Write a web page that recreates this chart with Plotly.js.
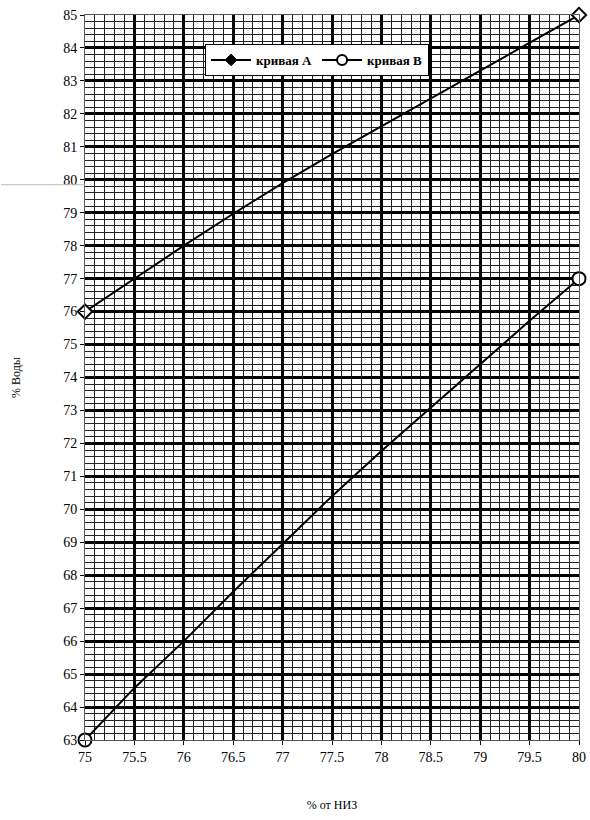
<!DOCTYPE html>
<html>
<head>
<meta charset="utf-8">
<script src="https://cdn.plot.ly/plotly-3.0.1.min.js"></script>
<style>html,body{margin:0;padding:0;background:#fff;}#chart{width:590px;height:820px;}</style>
</head>
<body>
<div id="chart"></div>
<script>
// Data
var xValues = [75, 75.5, 76, 76.5, 77, 77.5, 78, 78.5, 79, 79.5, 80];
var curveA = [76, 77.0, 78.0, 78.97, 79.9, 80.78, 81.62, 82.46, 83.3, 84.14, 85];
var curveB = [63, 64.58, 66.0, 67.5, 68.95, 70.4, 71.77, 73.1, 74.4, 75.72, 77];
var seriesNames = ['кривая А', 'кривая В'];
var xTitle = '% от НИЗ';
var yTitle = '% Воды';

var endIdx = [0, xValues.length - 1];
function pick(arr) { return endIdx.map(function (i) { return arr[i]; }); }

var traces = [
  {x: xValues, y: curveA, mode: 'lines', line: {color: '#000', width: 2}, showlegend: false, hoverinfo: 'skip'},
  {x: pick(xValues), y: pick(curveA), mode: 'markers', showlegend: false, cliponaxis: false,
   marker: {symbol: 'diamond', size: 11, color: '#fff', line: {color: '#000', width: 2}}},
  {x: xValues, y: curveB, mode: 'lines', line: {color: '#000', width: 2}, showlegend: false, hoverinfo: 'skip'},
  {x: pick(xValues), y: pick(curveB), mode: 'markers', showlegend: false, cliponaxis: false,
   marker: {symbol: 'circle', size: 13, color: '#fff', line: {color: '#000', width: 2}}},
  // legend entries
  {x: [null], y: [null], mode: 'lines+markers', name: seriesNames[0],
   line: {color: '#000', width: 2}, marker: {symbol: 'diamond', size: 9, color: '#000', line: {color: '#000', width: 1}}},
  {x: [null], y: [null], mode: 'lines+markers', name: seriesNames[1],
   line: {color: '#000', width: 2}, marker: {symbol: 'circle', size: 10, color: '#fff', line: {color: '#000', width: 2}}}
];

var fontFam = '"Liberation Serif", "Times New Roman", serif';

var layout = {
  width: 590, height: 820,
  margin: {l: 85, r: 11, t: 15, b: 80},
  paper_bgcolor: '#fff', plot_bgcolor: '#fff',
  font: {family: fontFam, size: 14, color: '#000'},
  showlegend: true,
  legend: {
    orientation: 'h', x: 0.243, y: 0.96, xanchor: 'left', yanchor: 'top',
    bgcolor: '#fff', bordercolor: '#000', borderwidth: 1,
    font: {family: fontFam, size: 13, color: '#000', weight: 'bold'},
    itemwidth: 40, tracegroupgap: 0
  },
  xaxis: {
    range: [75, 80], tickmode: 'linear', tick0: 75, dtick: 0.5,
    showgrid: true, gridcolor: '#000', gridwidth: 3,
    minor: {dtick: 0.1, showgrid: true, gridcolor: '#222', gridwidth: 1},
    showline: true, linecolor: '#555', linewidth: 1, mirror: true,
    ticks: 'outside', ticklen: 4, tickcolor: '#000',
    zeroline: false, fixedrange: true,
    tickfont: {family: fontFam, size: 14, color: '#000'},
    title: {text: xTitle, standoff: 36, font: {family: fontFam, size: 12, color: '#000'}}
  },
  yaxis: {
    range: [63, 85], tickmode: 'linear', tick0: 63, dtick: 1,
    showgrid: true, gridcolor: '#000', gridwidth: 3,
    minor: {dtick: 0.2, showgrid: true, gridcolor: '#222', gridwidth: 1},
    showline: true, linecolor: '#555', linewidth: 1, mirror: true,
    ticks: 'outside', ticklen: 4, tickcolor: '#000',
    zeroline: false, fixedrange: true,
    tickfont: {family: fontFam, size: 14, color: '#000'},
    title: {text: yTitle, standoff: 40, font: {family: fontFam, size: 12, color: '#000'}}
  },
  shapes: [
    {type: 'line', xref: 'paper', yref: 'y', x0: -0.17, x1: 0, y0: 79.85, y1: 79.85,
     line: {color: '#bbb', width: 1}}
  ]
};

Plotly.newPlot('chart', traces, layout, {displayModeBar: false, staticPlot: true});
</script>
</body>
</html>
